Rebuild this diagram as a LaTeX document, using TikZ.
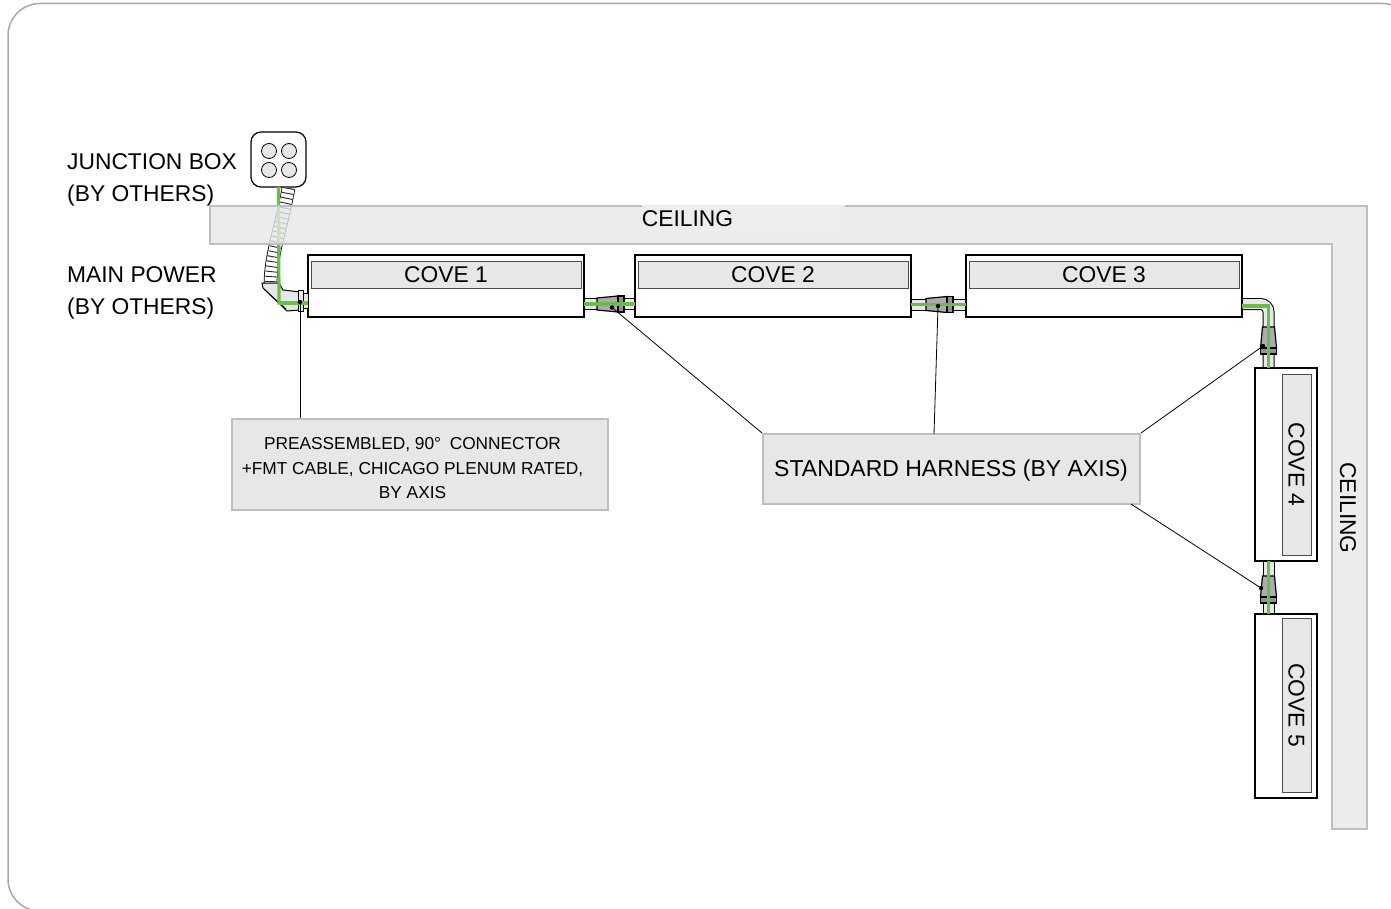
\documentclass[tikz,border=0pt]{standalone}
\usepackage{xcolor}
\usepackage{fontspec}
\setmainfont{Liberation Sans}
\usetikzlibrary{calc}
\definecolor{ceilingcolor}{RGB}{230,231,232}
\definecolor{edgecolor}{RGB}{188,190,192}
\definecolor{framecolor}{RGB}{165,167,169}
\definecolor{wirecolor}{RGB}{106,189,69}
\definecolor{bodycolor}{RGB}{170,172,175}

\begin{document}
\begin{tikzpicture}[
    x=1pt,
    y=-1pt,
    cove/.style={draw, line width=2, fill=white, inner sep=0, outer sep=0},
    covelabel/.style={draw=black!70, line width=0.7, fill=ceilingcolor, inner sep=0, font=\fontsize{22.8}{26}\selectfont, align=center},
    callout/.style={draw=edgecolor, line width=2, fill=ceilingcolor, inner sep=0, align=center},
    plain/.style={inner sep=0, align=left, font=\fontsize{22.8}{32}\selectfont},
    stub/.style={line width=1, draw=black, double=ceilingcolor, double distance=10},
    wire/.style={line width=3.2, wirecolor},
    leader/.style={line width=0.8},
    harness/.pic={
        \draw[line width=1.2, fill=bodycolor] (-21,-6) -- (0,-8) -- (0,8) -- (-21,6) -- cycle;
        \draw[line width=1.2, fill=bodycolor!85!black] (0,-8) rectangle (6,8);
    }
]
    \useasboundingbox (0,0) rectangle (1391,909);

    % Frame
    \draw[draw=framecolor, line width=1.5, rounded corners=32] (8,3.5) rectangle (1414,911);

    % Junction box and flexible conduit
    \node[draw, line width=1.2, fill=white, rounded corners=10, minimum size=55, inner sep=0, outer sep=0] (jbox) at (278.5,159.5) {};
    \foreach \cx/\cy in {269/151, 289/151, 269/170, 289/170}
        \draw[line width=0.8, fill=ceilingcolor] (\cx,\cy) circle (7.5);
    \draw[line width=0.8, double=white, double distance=12] (288.5,188) .. controls (282,225) and (270.5,255) .. (270.5,284);
    \draw[line width=12, black!85, dash pattern=on 0.9pt off 4.1pt] (288.5,188) .. controls (282,225) and (270.5,255) .. (270.5,284);
    \draw[line width=1, fill=ceilingcolor] (262,283) -- (263,288) -- (287,311) -- (300,310) -- (300,292) -- (283,290) -- (279,283) -- cycle;
    \draw[line width=0.8] (265,290) -- (286,309);

    % Main power cable
    \coordinate (bend) at (279,303);
    \draw[wire] (jbox.south) -- (bend) -- (307,303);

    % Ceiling
    \draw[draw=edgecolor, line width=2, fill=ceilingcolor, fill opacity=0.8] (210,206) -- (1367,206) -- (1367,829) -- (1332,829) -- (1332,244) -- (210,244) -- cycle;
    \node[inner sep=0, fill=ceilingcolor!75!white, minimum width=203, minimum height=26] (ceilingpatch) at (743.5,218) {};
    \node[inner sep=0, font=\fontsize{22.8}{26}\selectfont] (ceilingtop) at (687.5,219) {CEILING};
    \node[inner sep=0, rotate=-90, font=\fontsize{22.8}{26}\selectfont] (ceilingside) at (1348,508) {CEILING};

    % Labels
    \node[plain, anchor=west] (jboxlabel) at (67,179.5) {JUNCTION BOX\\(BY OTHERS)};
    \node[plain, anchor=west] (powerlabel) at (67,292.5) {MAIN POWER\\(BY OTHERS)};

    % Harness positions
    \coordinate (h1) at (618,304);
    \coordinate (h2) at (947,304.5);
    \coordinate (h3) at (1268.5,348);
    \coordinate (h4) at (1268.5,597);
    \coordinate (elbow) at (1268.5,304);
    \coordinate (dot1) at (612,307.5);
    \coordinate (dot2) at (938,306);
    \coordinate (dot3) at (1263,346);
    \coordinate (dot4) at (1261,588);

    % Stubs, under the coves
    \draw[stub] (584,304) -- (635,304);
    \draw[stub] (911,304.5) -- (966,304.5);
    \draw[stub, rounded corners=8] (1242,304) -- (elbow) -- (1268.5,368);
    \draw[stub] (1268.5,561) -- (1268.5,614);

    % Coves
    \node[cove, minimum width=276, minimum height=62] (cove1) at (446,286) {};
    \node[cove, minimum width=276, minimum height=62] (cove2) at (773,286) {};
    \node[cove, minimum width=276, minimum height=62] (cove3) at (1104,286) {};
    \node[cove, minimum width=62, minimum height=193] (cove4) at (1286,464.5) {};
    \node[cove, minimum width=62, minimum height=184] (cove5) at (1286,706) {};
    \node[covelabel, minimum width=270, minimum height=27] (covelabel1) at (446,274.5) {COVE 1};
    \node[covelabel, minimum width=270, minimum height=27] (covelabel2) at (773,274.5) {COVE 2};
    \node[covelabel, minimum width=270, minimum height=27] (covelabel3) at (1104,274.5) {COVE 3};
    \node[covelabel, rotate=-90, minimum width=181, minimum height=29] (covelabel4) at (1296.5,464.5) {COVE 4};
    \node[covelabel, rotate=-90, minimum width=174, minimum height=29] (covelabel5) at (1296.5,705) {COVE 5};

    % Main power connector
    \draw[line width=1, fill=ceilingcolor] (303,293) rectangle (cove1.west |- 0,308);
    \draw[line width=1, fill=ceilingcolor] (298,290) rectangle (303,311);
    \draw[wire] (bend) -- (cove1.west |- bend);
    \coordinate (dot0) at (300,302);
    \fill (dot0) circle (2.2);

    % Harnesses
    \pic at (h1) {harness};
    \pic at (h2) {harness};
    \pic[rotate=-90] at (h3) {harness};
    \pic[rotate=-90] at (h4) {harness};
    \draw[wire] (cove1.east |- h1) -- (cove2.west |- h1);
    \draw[wire] (cove2.east |- h2) -- (cove3.west |- h2);
    \draw[wire] (cove3.east |- 0,306) -- (1268.5,306) -- (h3 |- cove4.north);
    \draw[wire] (h4 |- cove4.south) -- (h4 |- cove5.north);
    \foreach \d in {dot1, dot2, dot3, dot4}
        \fill (\d) circle (2.2);

    % Callouts
    \node[callout, minimum width=376, minimum height=91] (preassembled) at (420,464.5) {};
    \node[inner sep=0, align=center, font=\fontsize{17.3}{24.5}\selectfont] (preassembledtext) at (412.5,468.5) {PREASSEMBLED, 90°\hspace{0.5em}CONNECTOR\\+FMT CABLE, CHICAGO PLENUM RATED,\\BY AXIS};
    \node[callout, minimum width=377, minimum height=70] (standard) at (951.5,469) {};
    \node[inner sep=0, font=\fontsize{23}{28}\selectfont] (standardtext) at (951,470.5) {STANDARD HARNESS (BY AXIS)};

    % Leaders
    \draw[leader] (dot0) -- (dot0 |- preassembled.north);
    \draw[leader] (dot1) -- (standard.north west);
    \draw[leader] (dot2) -- (934,434);
    \draw[leader] (dot3) -- (standard.north east);
    \draw[leader] (dot4) -- (1131,504);
\end{tikzpicture}
\end{document}
